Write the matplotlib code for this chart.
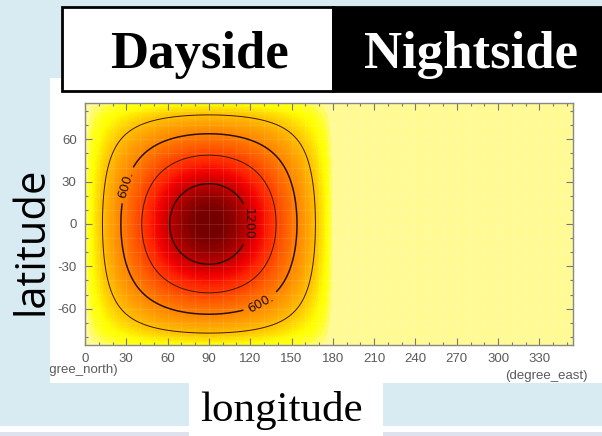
import numpy as np
import matplotlib
matplotlib.use('Agg')
import matplotlib.pyplot as plt
from matplotlib.patches import Rectangle
from matplotlib.colors import LinearSegmentedColormap, Normalize

# insolation: peak ~1366 W/m2 at the substellar point (90E, 0N)
solar_const = 1366.0
substellar_lon = 90.0
lon_max = 354.375      # T21 grid
lat_edge = 85.76

plain_levels = [300, 900]
labelled_levels = [600, 1200]
label_text = {600: '600.', 1200: '1200'}
label_spots = [(22, 30), (131, -62), (114, 0)]

xtick_vals = [0, 30, 60, 90, 120, 150, 180, 210, 240, 270, 300, 330]
ytick_vals = [-60, -30, 0, 30, 60]
ytick_labels = ['-60', '-30', '0', '30', '60']

shade_vals = [0, 20, 60, 120, 250, 420, 600, 800, 1000, 1100, 1200, 1290, 1366]
shade_cols = ['#fffaac', '#fffa80', '#ffff20', '#ffff00', '#ffcc00', '#ffa400',
              '#ff8400', '#ff5800', '#ff2400', '#f20000', '#c40000', '#960000',
              '#700000']

lon = np.linspace(0, lon_max, 640)
lat = np.linspace(-lat_edge, lat_edge, 320)
LON, LAT = np.meshgrid(lon, lat)
flux = solar_const * np.clip(np.cos(np.radians(LAT)) *
                             np.cos(np.radians(LON - substellar_lon)), 0, None)

W, H = 602, 436
def fx(x):
    return x / W
def fy(y):
    return 1 - y / H

fig = plt.figure(figsize=(W / 100, H / 100), dpi=100)
fig.patch.set_facecolor('#d9ebf2')

def box(x0, y0, x1, y1, fc, ec='none', lw=0, z=0):
    r = Rectangle((fx(x0), fy(y1)), (x1 - x0) / W, (y1 - y0) / H,
                  transform=fig.transFigure, fc=fc, ec=ec, lw=lw, zorder=z)
    fig.patches.append(r)
    return r

# slide pieces
box(0, 426, W, 432, 'white', z=-2)
box(0, 432, W, H, '#dde2ee', z=-2)
panel = box(50, 78, W, 383, 'white', z=-2)
box(189, 383, 383, H, 'white', z=-1)
box(62, 7, 333, 91, 'white', ec='black', lw=2, z=2)
box(333, 7, W + 5, 91, 'black', ec='black', lw=2, z=2)

fig.text(fx(199.5), fy(68), 'Dayside', family='Liberation Serif', weight='bold',
         size=38, ha='center', va='baseline', color='black', zorder=3)
fig.text(fx(471), fy(68), 'Nightside', family='Liberation Serif', weight='bold',
         size=38, ha='center', va='baseline', color='white', zorder=3)
fig.text(fx(281), fy(421), 'longitude', family='Liberation Serif', size=31,
         ha='center', va='baseline', color='black', zorder=3)
fig.text(fx(31), fy(241), 'latitude', family='Open Sans', size=30, rotation=90,
         ha='center', va='center', color='black', zorder=3)

ax = fig.add_axes([fx(85), fy(345), (573 - 85) / W, (345 - 103) / H])
ax.set_zorder(1)
ax.set_facecolor('#fffaac')

cmap = LinearSegmentedColormap.from_list(
    'insol', list(zip(np.array(shade_vals) / solar_const, shade_cols)))
ax.contourf(LON, LAT, flux, levels=np.linspace(0, solar_const, 61), cmap=cmap,
            norm=Normalize(0, solar_const))
ax.contour(LON, LAT, flux, levels=plain_levels, colors='#3a1a00', linewidths=0.7)
cs = ax.contour(LON, LAT, flux, levels=labelled_levels, colors='#2a1000',
                linewidths=1.1)
ax.clabel(cs, fmt=label_text, manual=label_spots, inline=True, fontsize=9,
          colors='#2a1000')

ax.set_xlim(0, lon_max)
ax.set_ylim(-lat_edge, lat_edge)
ax.set_xticks(xtick_vals)
ax.set_xticks(np.arange(0, 355, 10), minor=True)
ax.set_yticks(ytick_vals)
ax.set_yticklabels(ytick_labels)
ax.set_yticks(np.arange(-80, 81, 10), minor=True)
ax.grid(which='both', color='white', alpha=0.12, lw=0.6)
ax.tick_params(which='both', direction='in', top=True, right=True,
               color='#777777', width=0.8, labelsize=9.5, labelcolor='#5a5a5a',
               pad=6)
ax.tick_params(which='major', length=5)
ax.tick_params(which='minor', length=2.5)
for lab in ax.get_xticklabels() + ax.get_yticklabels():
    lab.set_family('Liberation Sans')
for s in ax.spines.values():
    s.set_color('#888888')
    s.set_linewidth(1)

fig.text(fx(588), fy(376), '(degree_east)', family='Liberation Sans', size=9.5,
         ha='right', va='center', color='#5a5a5a')
t = fig.text(fx(118), fy(370), '(degree_north)', family='Liberation Sans',
             size=9.5, ha='right', va='center', color='#5a5a5a')
t.set_clip_path(panel)

fig.savefig('out.png', dpi=100, facecolor=fig.get_facecolor())
